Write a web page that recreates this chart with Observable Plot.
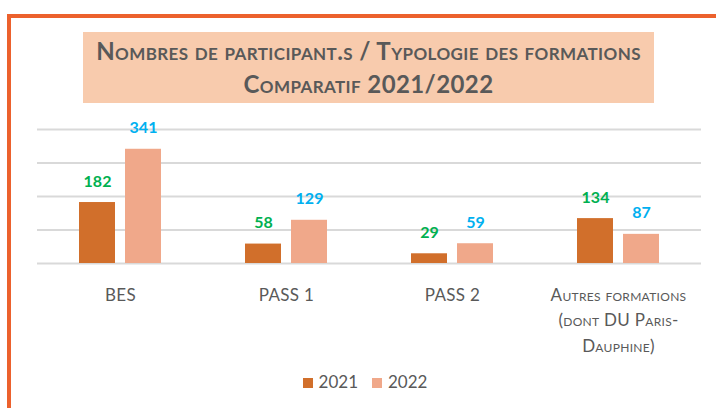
<!DOCTYPE html>
<html>
<head>
<meta charset="utf-8">
<script src="https://cdn.jsdelivr.net/npm/d3@7"></script>
<script src="https://cdn.jsdelivr.net/npm/@observablehq/plot@0.6"></script>
<style>
  html, body { margin: 0; padding: 0; background: #fff; }
  body { width: 716px; height: 408px; position: relative; overflow: hidden; font-family: Lato, "Open Sans", sans-serif; }
  #frame { position: absolute; left: 7px; top: 14px; width: 720px; height: 420px; border-top: 4px solid #EC612D; border-left: 4px solid #EC612D; box-sizing: border-box; }
  #title { position: absolute; left: 83px; top: 32px; width: 571px; height: 71px; background: #F8CBAD; color: #595959; font-weight: bold; font-variant: small-caps; text-align: center; font-size: 24px; letter-spacing: 0.4px; line-height: 33px; padding-top: 2px; box-sizing: border-box; white-space: nowrap; }
  #chart { position: absolute; left: 0; top: 0; }
  #chart svg [aria-label="fx-axis tick label"] text { font-variant: small-caps; letter-spacing: 0.3px; }
  #legend { position: absolute; top: 371px; left: 0; width: 716px; padding-left: 14px; box-sizing: border-box; text-align: center; color: #595959; font-size: 17px; }
  #legend span.item { display: inline-block; margin: 0 7px; }
  #legend span.sw { display: inline-block; width: 10px; height: 10px; margin-right: 6px; vertical-align: 0px; }
</style>
</head>
<body>
<div id="frame"></div>
<div id="title">Nombres de participant.s / Typologie des formations<br>Comparatif 2021/2022</div>
<div id="chart"></div>
<div id="legend"></div>
<script>
const categories = ["BES", "PASS 1", "PASS 2", "Autres formations\n(dont DU Paris-\nDauphine)"];
const years = ["2021", "2022"];
const values2021 = [182, 58, 29, 134];
const values2022 = [341, 129, 59, 87];
const yTicks = [0, 100, 200, 300, 400];

const barColors = ["#D16F2B", "#F0A88A"];
const labelColors = ["#00B050", "#00B0F0"];

const rows = [];
categories.forEach((c, i) => {
  rows.push({category: c, year: years[0], value: values2021[i]});
  rows.push({category: c, year: years[1], value: values2022[i]});
});

const chart = Plot.plot({
  width: 716,
  height: 408,
  marginTop: 129,
  marginBottom: 145,
  marginLeft: 36,
  marginRight: 14,
  style: {fontFamily: "Lato, 'Open Sans', sans-serif", background: "transparent", overflow: "visible"},
  fx: {domain: categories, padding: 0, label: null},
  x: {domain: years, paddingInner: 0.21, paddingOuter: 0.88, axis: null},
  y: {domain: [0, 400], axis: null},
  color: {domain: years, range: barColors},
  marks: [
    Plot.gridY(yTicks, {stroke: "#D9D9D9", strokeWidth: 2, strokeOpacity: 1}),
    Plot.barY(rows, {fx: "category", x: "year", y: "value", fill: "year"}),
    Plot.text(rows.filter(d => d.year === years[0]), {fx: "category", x: "year", y: "value", text: d => String(d.value), dy: -21, fill: labelColors[0], fontWeight: "bold", fontSize: 16}),
    Plot.text(rows.filter(d => d.year === years[1]), {fx: "category", x: "year", y: "value", text: d => String(d.value), dy: -21, fill: labelColors[1], fontWeight: "bold", fontSize: 16}),
    Plot.axisFx({anchor: "bottom", tickSize: 0, tickPadding: 19, fontSize: 17, lineHeight: 1.5, fill: "#595959", label: null})
  ]
});
document.getElementById("chart").appendChild(chart);

const legend = document.getElementById("legend");
years.forEach((y, i) => {
  const item = document.createElement("span");
  item.className = "item";
  const sw = document.createElement("span");
  sw.className = "sw";
  sw.style.background = barColors[i];
  item.appendChild(sw);
  item.appendChild(document.createTextNode(y));
  legend.appendChild(item);
});
</script>
</body>
</html>
